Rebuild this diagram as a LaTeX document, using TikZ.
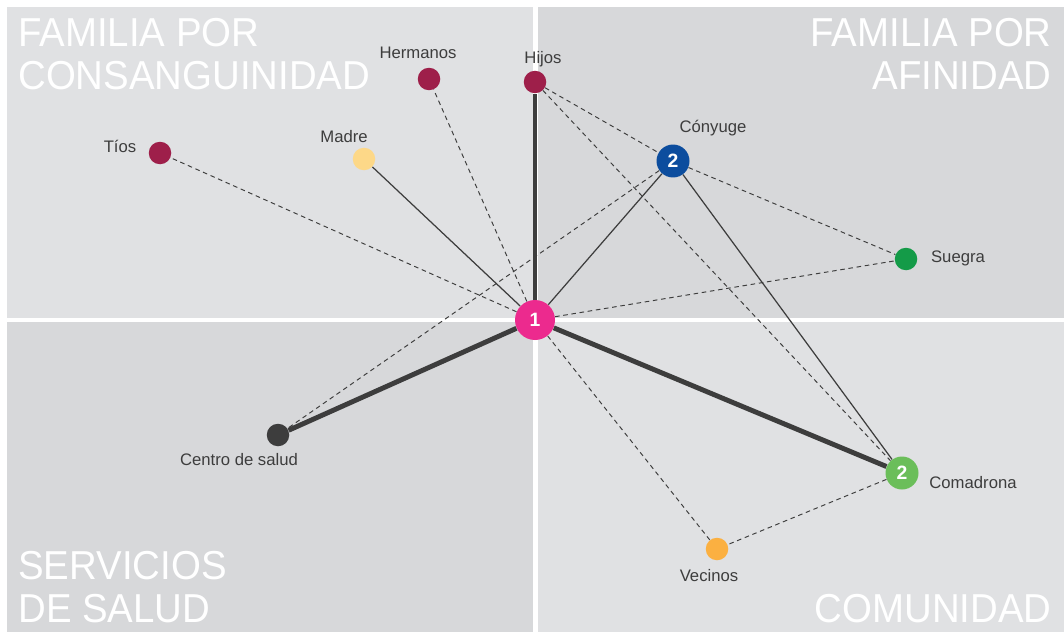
\documentclass[tikz,border=0pt]{standalone}
\usepackage{fontspec}
\setmainfont{Liberation Sans}
\newfontfamily\titlefont{Liberation Sans}[FakeStretch=0.95]
\usetikzlibrary{positioning}

\definecolor{redgris}{HTML}{3D3D3D}
\definecolor{panelclaro}{HTML}{E0E1E3}
\definecolor{paneloscuro}{HTML}{D7D8DA}
\definecolor{egomag}{HTML}{EC2A8E}
\definecolor{granate}{HTML}{9E1F4A}
\definecolor{madream}{HTML}{FDD888}
\definecolor{conyazul}{HTML}{0C4D9E}
\definecolor{suegrav}{HTML}{149B48}
\definecolor{comav}{HTML}{6BBE5A}
\definecolor{vecnar}{HTML}{FBB041}

\begin{document}
\begin{tikzpicture}[x=0.02cm, y=-0.02cm,
	every node/.style={font=\fontsize{9.5}{11}\selectfont},
	cuadro/.style={text=white, inner sep=0pt, font=\titlefont\fontsize{23}{24.5}\selectfont},
	lbl/.style={text=redgris, inner sep=0pt, anchor=mid},
	actor/.style={circle, inner sep=0pt, minimum size=0.45cm},
	clave/.style={circle, inner sep=0pt, minimum size=0.66cm, text=white, font=\bfseries\fontsize{11}{11}\selectfont},
	fuerte/.style={redgris, line width=2.8pt},
	debil/.style={redgris, line width=0.7pt},
	dudoso/.style={redgris, line width=0.55pt, dash pattern=on 2.6pt off 2.1pt}]
	% fondo y cuadrantes
	\fill[white] (0,0) rectangle (1064,632);
	\fill[panelclaro] (7,7) rectangle (533,318);
	\fill[paneloscuro] (538,7) rectangle (1064,318);
	\fill[paneloscuro] (7,322) rectangle (533,632);
	\fill[panelclaro] (538,322) rectangle (1064,632);
	\node[cuadro, anchor=north west, align=left] (tconsang) at (18,18) {FAMILIA POR\\CONSANGUINIDAD};
	\node[cuadro, anchor=north east, align=right] (tafin) at (1052,18) {FAMILIA POR\\AFINIDAD};
	\node[cuadro, anchor=south west, align=left] (tsalud) at (18,623) {SERVICIOS\\DE SALUD};
	\node[cuadro, anchor=south east, align=right] (tcomun) at (1052,623) {COMUNIDAD};
	% actores
	\node[clave, fill=egomag, minimum size=0.8cm] (ego) at (535,320) {1};
	\node[actor, fill=granate] (hermanos) at (429,79) {};
	\node[actor, fill=granate] (hijos) at (535,82) {};
	\node[actor, fill=granate] (tios) at (160,153) {};
	\node[actor, fill=madream] (madre) at (364,159) {};
	\node[clave, fill=conyazul] (conyuge) at (673,161) {2};
	\node[actor, fill=suegrav] (suegra) at (906,259) {};
	\node[actor, fill=redgris] (centro) at (278,435) {};
	\node[clave, fill=comav] (comadrona) at (902,473) {2};
	\node[actor, fill=vecnar] (vecinos) at (717,549) {};
	% etiquetas
	\node[lbl] (lhermanos) at (418,54) {Hermanos};
	\node[lbl] (lhijos) at (543,59) {Hijos};
	\node[lbl] (ltios) at (120,148) {Tíos};
	\node[lbl] (lmadre) at (344,138) {Madre};
	\node[lbl] (lconyuge) at (713,128) {Cónyuge};
	\node[lbl] (lsuegra) at (958,258) {Suegra};
	\node[lbl] (lcentro) at (239,461) {Centro de salud};
	\node[lbl] (lcomadrona) at (973,484) {Comadrona};
	\node[lbl] (lvecinos) at (709,577) {Vecinos};
	% relaciones
	\foreach \a/\b in {ego/tios, ego/hermanos, ego/suegra, ego/vecinos, hijos/conyuge, hijos/comadrona, conyuge/suegra, conyuge/centro, comadrona/vecinos}
		\draw[dudoso] (\a) -- (\b);
	\foreach \a/\b in {ego/madre, ego/conyuge, conyuge/comadrona}
		\draw[debil] (\a) -- (\b);
	\foreach \b in {hijos, centro, comadrona}
		\draw[fuerte] (ego) -- (\b);
\end{tikzpicture}
\end{document}
